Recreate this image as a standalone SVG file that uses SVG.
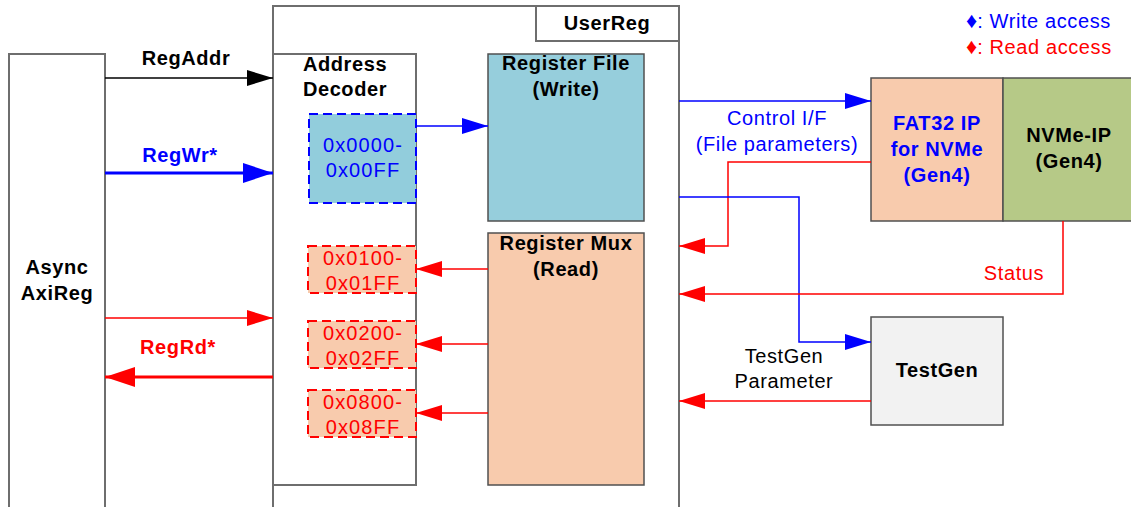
<svg xmlns="http://www.w3.org/2000/svg" width="1131" height="507" viewBox="0 0 1131 507">
<defs>
<style>
.t{font-family:"Liberation Sans",Arial,sans-serif;font-size:20px;letter-spacing:0.6px}
.h{letter-spacing:1.1px}
.b{font-weight:bold}
.c{text-anchor:middle}
.blk{fill:#000}
.blu{fill:#0000FF}
.red{fill:#FF0000}
.box{stroke:#6E6E6E;stroke-width:2;fill:#fff}
.inner{stroke:#505050;stroke-width:1.5}
.dashB{fill:#92CDDC;stroke:#0000FF;stroke-width:2;stroke-dasharray:9,5}
.dashR{fill:#F8CBAD;stroke:#FF0000;stroke-width:2;stroke-dasharray:9,5}
.ln{fill:none}
</style>
<marker id="aK" markerUnits="userSpaceOnUse" markerWidth="26" markerHeight="18" refX="26" refY="8" orient="auto"><path d="M0,0 L26,8 L0,16 z" fill="#000"/></marker>
<marker id="aB" markerUnits="userSpaceOnUse" markerWidth="26" markerHeight="18" refX="26" refY="8" orient="auto"><path d="M0,0 L26,8 L0,16 z" fill="#0000FF"/></marker>
<marker id="aR" markerUnits="userSpaceOnUse" markerWidth="26" markerHeight="18" refX="26" refY="8" orient="auto"><path d="M0,0 L26,8 L0,16 z" fill="#FF0000"/></marker>
<marker id="aBt" markerUnits="userSpaceOnUse" markerWidth="32" markerHeight="22" refX="30" refY="10" orient="auto"><path d="M0,0 L30,10 L0,20 z" fill="#0000FF"/></marker>
<marker id="aRt" markerUnits="userSpaceOnUse" markerWidth="32" markerHeight="22" refX="30" refY="10" orient="auto"><path d="M0,0 L30,10 L0,20 z" fill="#FF0000"/></marker>
</defs>
<rect width="1131" height="507" fill="#fff"/>

<g id="async">
<rect class="box" x="9" y="54" width="96" height="470"/>
<text class="t b c blk" x="57" y="274">Async</text>
<text class="t b c blk" x="57" y="300">AxiReg</text>
</g>

<g id="userreg">
<rect class="box" x="273" y="6" width="406" height="520"/>
<rect class="box" x="536" y="6" width="143" height="35"/>
<text class="t b c blk" x="607" y="30">UserReg</text>
</g>

<g id="addrdec">
<rect class="box" x="273" y="54" width="143" height="431"/>
<text class="t b c blk" x="345" y="71">Address</text>
<text class="t b c blk" x="345" y="96">Decoder</text>
</g>

<g id="wr0000">
<rect class="dashB" x="309" y="114" width="107" height="89"/>
<text class="t h c blu" x="363" y="152">0x0000-</text>
<text class="t h c blu" x="363" y="177">0x00FF</text>
</g>
<g id="rd0100">
<rect class="dashR" x="308" y="246" width="108" height="47"/>
<text class="t h c red" x="363" y="265">0x0100-</text>
<text class="t h c red" x="363" y="290">0x01FF</text>
</g>
<g id="rd0200">
<rect class="dashR" x="308" y="321" width="108" height="47"/>
<text class="t h c red" x="363" y="340">0x0200-</text>
<text class="t h c red" x="363" y="365">0x02FF</text>
</g>
<g id="rd0800">
<rect class="dashR" x="308" y="390" width="108" height="47"/>
<text class="t h c red" x="363" y="409">0x0800-</text>
<text class="t h c red" x="363" y="434">0x08FF</text>
</g>

<g id="regfile">
<rect class="inner" x="488" y="54" width="156" height="167" fill="#96CEDC"/>
<text class="t b c blk" x="566" y="70">Register File</text>
<text class="t b c blk" x="566" y="96">(Write)</text>
</g>
<g id="regmux">
<rect class="inner" x="488" y="233" width="156" height="252" fill="#F8CBAD"/>
<text class="t b c blk" x="566" y="250">Register Mux</text>
<text class="t b c blk" x="566" y="276">(Read)</text>
</g>

<g id="fat32">
<rect class="inner" x="871" y="78" width="132" height="143" fill="#F8CBAD"/>
<text class="t b c blu" x="937" y="130">FAT32 IP</text>
<text class="t b c blu" x="937" y="156">for NVMe</text>
<text class="t b c blu" x="937" y="182">(Gen4)</text>
</g>
<g id="nvme">
<rect class="inner" x="1003" y="78" width="140" height="143" fill="#B6C987"/>
<text class="t b c blk" x="1069" y="142">NVMe-IP</text>
<text class="t b c blk" x="1069" y="168">(Gen4)</text>
</g>
<g id="testgen">
<rect class="inner" x="871" y="317" width="132" height="108" fill="#F2F2F2"/>
<text class="t b c blk" x="937" y="377">TestGen</text>
</g>

<g id="legend">
<text class="t blu" x="966" y="28"><tspan font-size="22" letter-spacing="0">♦</tspan>: Write access</text>
<text class="t red" x="966" y="54"><tspan font-size="22" letter-spacing="0">♦</tspan>: Read access</text>
</g>

<g id="connectors">
<path class="ln" d="M105,78 H273" stroke="#000" stroke-width="1.5" marker-end="url(#aK)"/>
<text class="t b c blk" x="186" y="65">RegAddr</text>
<path class="ln" d="M105,173 H273" stroke="#0000FF" stroke-width="3" marker-end="url(#aBt)"/>
<text class="t b c blu" x="180" y="162">RegWr*</text>
<path class="ln" d="M105,318 H273" stroke="#FF0000" stroke-width="1.5" marker-end="url(#aR)"/>
<path class="ln" d="M273,377 H105" stroke="#FF0000" stroke-width="3" marker-end="url(#aRt)"/>
<text class="t b c red" x="178" y="354">RegRd*</text>

<path class="ln" d="M416,126 H488" stroke="#0000FF" stroke-width="1.5" marker-end="url(#aB)"/>
<path class="ln" d="M488,269 H416" stroke="#FF0000" stroke-width="1.5" marker-end="url(#aR)"/>
<path class="ln" d="M488,344 H416" stroke="#FF0000" stroke-width="1.5" marker-end="url(#aR)"/>
<path class="ln" d="M488,413 H416" stroke="#FF0000" stroke-width="1.5" marker-end="url(#aR)"/>

<path class="ln" d="M679,101 H871" stroke="#0000FF" stroke-width="1.5" marker-end="url(#aB)"/>
<text class="t c blu" x="777" y="125">Control I/F</text>
<text class="t c blu" x="777" y="151">(File parameters)</text>
<path class="ln" d="M871,162 H728 V246 H679" stroke="#FF0000" stroke-width="1.5" marker-end="url(#aR)"/>
<path class="ln" d="M679,197 H799 V342 H871" stroke="#0000FF" stroke-width="1.5" marker-end="url(#aB)"/>
<path class="ln" d="M1063,221 V294 H679" stroke="#FF0000" stroke-width="1.5" marker-end="url(#aR)"/>
<text class="t c red" x="1014" y="280">Status</text>
<path class="ln" d="M871,401 H679" stroke="#FF0000" stroke-width="1.5" marker-end="url(#aR)"/>
<text class="t c blk" x="784" y="363">TestGen</text>
<text class="t c blk" x="784" y="388">Parameter</text>
</g>
</svg>
